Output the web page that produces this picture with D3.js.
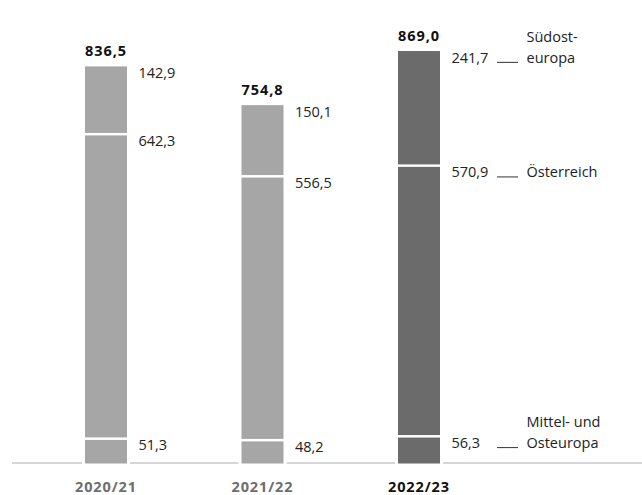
<!DOCTYPE html>
<html>
<head>
<meta charset="utf-8">
<script src="https://cdn.jsdelivr.net/npm/d3@7"></script>
<style>
  html, body { margin: 0; padding: 0; background: #fff; }
  svg { display: block; font-family: "Open Sans", "Noto Sans", sans-serif; }
</style>
</head>
<body>
<svg id="chart" width="642" height="495"></svg>
<script>
// Fiscal years shown on the x axis
const years = ["2020/21", "2021/22", "2022/23"];
// Segments stacked from the bottom up
const regions = ["Mittel- und Osteuropa", "Österreich", "Südosteuropa"];
const mittelOsteuropa = [51.3, 48.2, 56.3];
const oesterreich = [642.3, 556.5, 570.9];
const suedosteuropa = [142.9, 150.1, 241.7];
const totals = [836.5, 754.8, 869.0];
// Legend text lines, one array per region (bottom to top)
const legendLines = [["Mittel- und", "Osteuropa"], ["Österreich"], ["Südost-", "europa"]];

const fmt = v => v.toFixed(1).replace(".", ",");
const series = [mittelOsteuropa, oesterreich, suedosteuropa];

const svg = d3.select("#chart");
const baseY = 463;
const barW = 42;

const x = d3.scalePoint().domain(years).range([106, 419]);
const y = d3.scaleLinear().domain([0, d3.max(totals)]).range([baseY, 51]);

const colorFor = (i) => i === years.length - 1 ? "#6b6b6b" : "#a6a6a6";

// Baseline
svg.append("line")
  .attr("x1", 12).attr("x2", 642)
  .attr("y1", baseY).attr("y2", baseY)
  .attr("stroke", "#c8c8c8").attr("stroke-width", 1.5);

// Stack the segments per year
const stacked = years.map((yr, i) => {
  let acc = 0;
  return series.map((s, k) => {
    const seg = { year: yr, i, k, v: s[i], y0: acc, y1: acc + s[i] };
    acc += s[i];
    return seg;
  });
});

const gap = 2.5;
years.forEach((yr, i) => {
  const cx = x(yr);
  const g = svg.append("g");
  // white knock-out around the bar on the baseline
  g.append("rect")
    .attr("x", cx - barW / 2 - 3).attr("width", barW + 6)
    .attr("y", baseY - 2).attr("height", 4)
    .attr("fill", "#fff");

  const segs = stacked[i];
  const top = segs[segs.length - 1].y1;
  g.selectAll("rect.seg").data(segs).join("rect")
    .attr("class", "seg")
    .attr("x", cx - barW / 2)
    .attr("width", barW)
    .attr("y", d => y(d.y1) + (d.k === segs.length - 1 ? 0 : gap / 2))
    .attr("height", d => {
      const t = y(d.y1) + (d.k === segs.length - 1 ? 0 : gap / 2);
      const b = y(d.y0) - (d.k === 0 ? -0.5 : gap / 2);
      return b - t;
    })
    .attr("fill", colorFor(i));

  // segment values
  g.selectAll("text.val").data(segs).join("text")
    .attr("class", "val")
    .attr("x", cx + barW / 2 + 11.5)
    .attr("y", d => y(d.y1) + 11.8)
    .attr("font-size", 14.5)
    .attr("fill", "#222")
    .text(d => fmt(d.v));

  // total on top
  g.append("text")
    .attr("x", cx).attr("y", y(totals[i]) - 10.5)
    .attr("text-anchor", "middle")
    .attr("font-size", 14.5).attr("font-weight", 700)
    .attr("letter-spacing", 0.9)
    .attr("fill", "#111")
    .text(fmt(totals[i]));

  // category label
  svg.append("text")
    .attr("x", cx).attr("y", 491.5)
    .attr("text-anchor", "middle")
    .attr("font-size", 14.5).attr("font-weight", 700)
    .attr("letter-spacing", 0.9)
    .attr("fill", i === years.length - 1 ? "#111" : "#6e6e6e")
    .text(yr);
});

// Legend next to the last bar
const last = stacked[years.length - 1];
const lx = x(years[years.length - 1]) + barW / 2;
const legend = svg.append("g");
last.forEach((d, k) => {
  const base = y(d.y1) + 11.8;
  legend.append("line")
    .attr("x1", lx + 57).attr("x2", lx + 78)
    .attr("y1", base - 0.5).attr("y2", base - 0.5)
    .attr("stroke", "#333").attr("stroke-width", 1);
  const lines = legendLines[k];
  const t = legend.append("text")
    .attr("x", lx + 86.5)
    .attr("font-size", 14.5)
    .attr("fill", "#222");
  lines.forEach((ln, j) => {
    t.append("tspan")
      .attr("x", lx + 86.5)
      .attr("y", base - (lines.length - 1 - j) * 20.7)
      .text(ln);
  });
});
</script>
</body>
</html>
